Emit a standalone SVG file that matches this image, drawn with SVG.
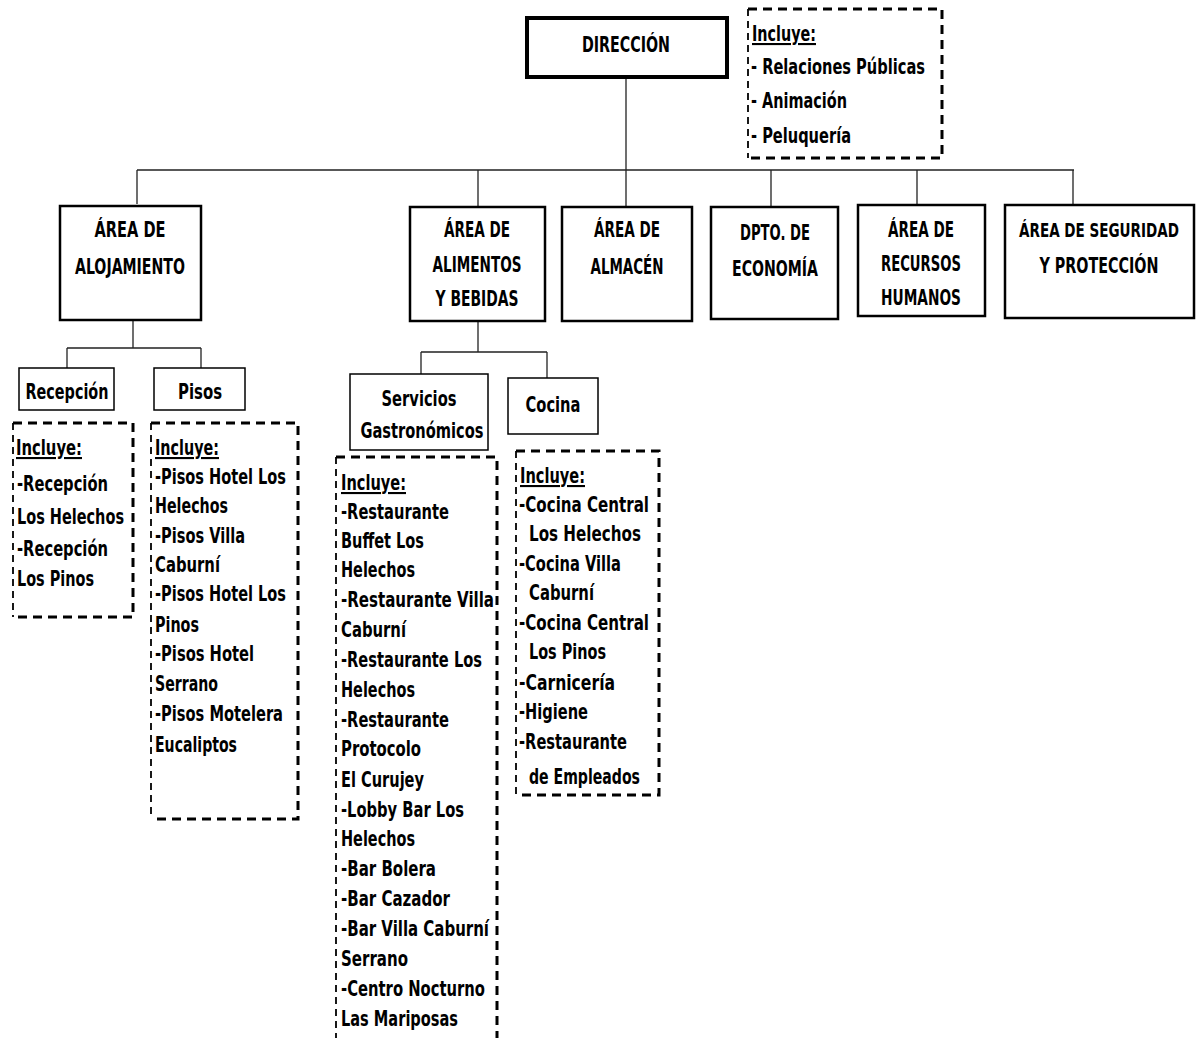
<svg xmlns="http://www.w3.org/2000/svg" width="1196" height="1038" viewBox="0 0 1196 1038">
  <style>
    text { font-family: "Liberation Sans Narrow", "DejaVu Sans Condensed", "Liberation Sans", sans-serif; font-weight: bold; font-size: 21px; fill: #000; }
    .c { text-anchor: middle; }
    .u { text-decoration: underline; }
    .sm { font-size: 19px; }
    .box { fill: #fff; stroke: #000; stroke-width: 2.5; }
    .boxd { fill: #fff; stroke: #000; stroke-width: 4; }
    .sub { fill: #fff; stroke: #000; stroke-width: 1.5; }
    .dash { fill: none; stroke: #000; stroke-width: 3; stroke-dasharray: 9 6; }
    .dashl { fill: none; stroke: #000; stroke-width: 1.8; stroke-dasharray: 7 5; }
    .conn { fill: none; stroke: #222; stroke-width: 1.3; }
  </style>

  <!-- connectors -->
  <g id="connectors">
    <path class="conn" d="M626 77 V170 M137 170 H1074 M137 170 V204 M478 170 V206 M626 170 V206 M771 170 V206 M917 170 V204 M1073 170 V205"/>
    <path class="conn" d="M133 320 V348 M67 348 H201 M67 348 V368 M201 348 V368"/>
    <path class="conn" d="M478 322 V352 M421 352 H547 M421 352 V374 M547 352 V378"/>
  </g>

  <!-- top level -->
  <g id="direccion">
    <rect class="boxd" x="527" y="18" width="200" height="59"/>
    <text class="c" x="626" y="52" textLength="88" lengthAdjust="spacingAndGlyphs">DIRECCIÓN</text>
  </g>
  <g id="direccion-incluye">
    <path class="dash" d="M748 9 H942 V158 H748"/>
    <path class="dashl" d="M748 9 V158"/>
    <text class="u" x="752" y="41" textLength="64" lengthAdjust="spacingAndGlyphs">Incluye:</text>
    <text x="751" y="74" textLength="174" lengthAdjust="spacingAndGlyphs">- Relaciones Públicas</text>
    <text x="751" y="108" textLength="96" lengthAdjust="spacingAndGlyphs">- Animación</text>
    <text x="751" y="143" textLength="100" lengthAdjust="spacingAndGlyphs">- Peluquería</text>
  </g>

  <!-- second level -->
  <g id="alojamiento">
    <rect class="box" x="60" y="206" width="141" height="114"/>
    <text class="c" x="130" y="237" textLength="71" lengthAdjust="spacingAndGlyphs">ÁREA DE</text>
    <text class="c" x="130" y="274" textLength="110" lengthAdjust="spacingAndGlyphs">ALOJAMIENTO</text>
  </g>
  <g id="alimentos">
    <rect class="box" x="410" y="207" width="135" height="114"/>
    <text class="c" x="477" y="237" textLength="66" lengthAdjust="spacingAndGlyphs">ÁREA DE</text>
    <text class="c" x="477" y="272" textLength="89" lengthAdjust="spacingAndGlyphs">ALIMENTOS</text>
    <text class="c" x="477" y="306" textLength="83" lengthAdjust="spacingAndGlyphs">Y BEBIDAS</text>
  </g>
  <g id="almacen">
    <rect class="box" x="562" y="207" width="130" height="114"/>
    <text class="c" x="627" y="237" textLength="66" lengthAdjust="spacingAndGlyphs">ÁREA DE</text>
    <text class="c" x="627" y="274" textLength="73" lengthAdjust="spacingAndGlyphs">ALMACÉN</text>
  </g>
  <g id="economia">
    <rect class="box" x="711" y="207" width="127" height="112"/>
    <text class="c" x="775" y="240" textLength="70" lengthAdjust="spacingAndGlyphs">DPTO. DE</text>
    <text class="c" x="775" y="276" textLength="86" lengthAdjust="spacingAndGlyphs">ECONOMÍA</text>
  </g>
  <g id="recursos">
    <rect class="box" x="858" y="205" width="127" height="111"/>
    <text class="c" x="921" y="237" textLength="66" lengthAdjust="spacingAndGlyphs">ÁREA DE</text>
    <text class="c" x="921" y="271" textLength="80" lengthAdjust="spacingAndGlyphs">RECURSOS</text>
    <text class="c" x="921" y="305" textLength="80" lengthAdjust="spacingAndGlyphs">HUMANOS</text>
  </g>
  <g id="seguridad">
    <rect class="box" x="1005" y="205" width="189" height="113"/>
    <text class="c sm" x="1099" y="237" textLength="160" lengthAdjust="spacingAndGlyphs">ÁREA DE SEGURIDAD</text>
    <text class="c" x="1099" y="273" textLength="119" lengthAdjust="spacingAndGlyphs">Y PROTECCIÓN</text>
  </g>

  <!-- alojamiento branches -->
  <g id="recepcion">
    <rect class="sub" x="19" y="368" width="95" height="42"/>
    <text class="c" x="67" y="399" textLength="83" lengthAdjust="spacingAndGlyphs">Recepción</text>
  </g>
  <g id="pisos">
    <rect class="sub" x="154" y="368" width="91" height="42"/>
    <text class="c" x="200" y="399" textLength="44" lengthAdjust="spacingAndGlyphs">Pisos</text>
  </g>
  <g id="recepcion-incluye">
    <path class="dash" d="M13 423 H133 V617 H13"/>
    <path class="dashl" d="M13 423 V617"/>
    <text class="u" x="16" y="455" textLength="66" lengthAdjust="spacingAndGlyphs">Incluye:</text>
    <text x="17" y="491" textLength="91" lengthAdjust="spacingAndGlyphs">-Recepción</text>
    <text x="17" y="524" textLength="107" lengthAdjust="spacingAndGlyphs">Los Helechos</text>
    <text x="17" y="556" textLength="91" lengthAdjust="spacingAndGlyphs">-Recepción</text>
    <text x="17" y="586" textLength="77" lengthAdjust="spacingAndGlyphs">Los Pinos</text>
  </g>
  <g id="pisos-incluye">
    <path class="dash" d="M151 423 H298 V819 H151"/>
    <path class="dashl" d="M151 423 V819"/>
    <text class="u" x="155" y="455" textLength="64" lengthAdjust="spacingAndGlyphs">Incluye:</text>
    <text x="155" y="484" textLength="131" lengthAdjust="spacingAndGlyphs">-Pisos Hotel Los</text>
    <text x="155" y="513" textLength="73" lengthAdjust="spacingAndGlyphs">Helechos</text>
    <text x="155" y="543" textLength="90" lengthAdjust="spacingAndGlyphs">-Pisos Villa</text>
    <text x="155" y="572" textLength="65" lengthAdjust="spacingAndGlyphs">Caburní</text>
    <text x="155" y="601" textLength="131" lengthAdjust="spacingAndGlyphs">-Pisos Hotel Los</text>
    <text x="155" y="632" textLength="44" lengthAdjust="spacingAndGlyphs">Pinos</text>
    <text x="155" y="661" textLength="99" lengthAdjust="spacingAndGlyphs">-Pisos Hotel</text>
    <text x="155" y="691" textLength="63" lengthAdjust="spacingAndGlyphs">Serrano</text>
    <text x="155" y="721" textLength="128" lengthAdjust="spacingAndGlyphs">-Pisos Motelera</text>
    <text x="155" y="752" textLength="82" lengthAdjust="spacingAndGlyphs">Eucaliptos</text>
  </g>

  <!-- alimentos branches -->
  <g id="servicios">
    <rect class="sub" x="350" y="374" width="138" height="76"/>
    <text class="c" x="419" y="406" textLength="75" lengthAdjust="spacingAndGlyphs">Servicios</text>
    <text class="c" x="422" y="438" textLength="123" lengthAdjust="spacingAndGlyphs">Gastronómicos</text>
  </g>
  <g id="cocina">
    <rect class="sub" x="508" y="378" width="90" height="56"/>
    <text class="c" x="553" y="412" textLength="55" lengthAdjust="spacingAndGlyphs">Cocina</text>
  </g>
  <g id="servicios-incluye">
    <path class="dash" d="M336 457 H497 V1040"/>
    <path class="dashl" d="M336 457 V1040"/>
    <text class="u" x="341" y="490" textLength="65" lengthAdjust="spacingAndGlyphs">Incluye:</text>
    <text x="341" y="519" textLength="108" lengthAdjust="spacingAndGlyphs">-Restaurante</text>
    <text x="341" y="548" textLength="83" lengthAdjust="spacingAndGlyphs">Buffet Los</text>
    <text x="341" y="577" textLength="74" lengthAdjust="spacingAndGlyphs">Helechos</text>
    <text x="341" y="607" textLength="153" lengthAdjust="spacingAndGlyphs">-Restaurante  Villa</text>
    <text x="341" y="637" textLength="65" lengthAdjust="spacingAndGlyphs">Caburní</text>
    <text x="341" y="667" textLength="141" lengthAdjust="spacingAndGlyphs">-Restaurante Los</text>
    <text x="341" y="697" textLength="74" lengthAdjust="spacingAndGlyphs">Helechos</text>
    <text x="341" y="727" textLength="108" lengthAdjust="spacingAndGlyphs">-Restaurante</text>
    <text x="341" y="756" textLength="80" lengthAdjust="spacingAndGlyphs">Protocolo</text>
    <text x="341" y="787" textLength="83" lengthAdjust="spacingAndGlyphs">El Curujey</text>
    <text x="341" y="817" textLength="123" lengthAdjust="spacingAndGlyphs">-Lobby Bar Los</text>
    <text x="341" y="846" textLength="74" lengthAdjust="spacingAndGlyphs">Helechos</text>
    <text x="341" y="876" textLength="95" lengthAdjust="spacingAndGlyphs">-Bar Bolera</text>
    <text x="341" y="906" textLength="109" lengthAdjust="spacingAndGlyphs">-Bar Cazador</text>
    <text x="341" y="936" textLength="148" lengthAdjust="spacingAndGlyphs">-Bar Villa Caburní</text>
    <text x="341" y="966" textLength="67" lengthAdjust="spacingAndGlyphs">Serrano</text>
    <text x="341" y="996" textLength="144" lengthAdjust="spacingAndGlyphs">-Centro Nocturno</text>
    <text x="341" y="1026" textLength="117" lengthAdjust="spacingAndGlyphs">Las Mariposas</text>
  </g>
  <g id="cocina-incluye">
    <path class="dash" d="M516 451 H659 V795 H516"/>
    <path class="dashl" d="M516 451 V795"/>
    <text class="u" x="520" y="483" textLength="65" lengthAdjust="spacingAndGlyphs">Incluye:</text>
    <text x="519" y="512" textLength="130" lengthAdjust="spacingAndGlyphs">-Cocina Central</text>
    <text x="529" y="541" textLength="112" lengthAdjust="spacingAndGlyphs">Los  Helechos</text>
    <text x="519" y="571" textLength="102" lengthAdjust="spacingAndGlyphs">-Cocina Villa</text>
    <text x="529" y="600" textLength="65" lengthAdjust="spacingAndGlyphs">Caburní</text>
    <text x="519" y="630" textLength="130" lengthAdjust="spacingAndGlyphs">-Cocina Central</text>
    <text x="529" y="659" textLength="77" lengthAdjust="spacingAndGlyphs">Los Pinos</text>
    <text x="519" y="690" textLength="96" lengthAdjust="spacingAndGlyphs">-Carnicería</text>
    <text x="519" y="719" textLength="69" lengthAdjust="spacingAndGlyphs">-Higiene</text>
    <text x="519" y="749" textLength="108" lengthAdjust="spacingAndGlyphs">-Restaurante</text>
    <text x="529" y="784" textLength="111" lengthAdjust="spacingAndGlyphs">de Empleados</text>
  </g>
</svg>
